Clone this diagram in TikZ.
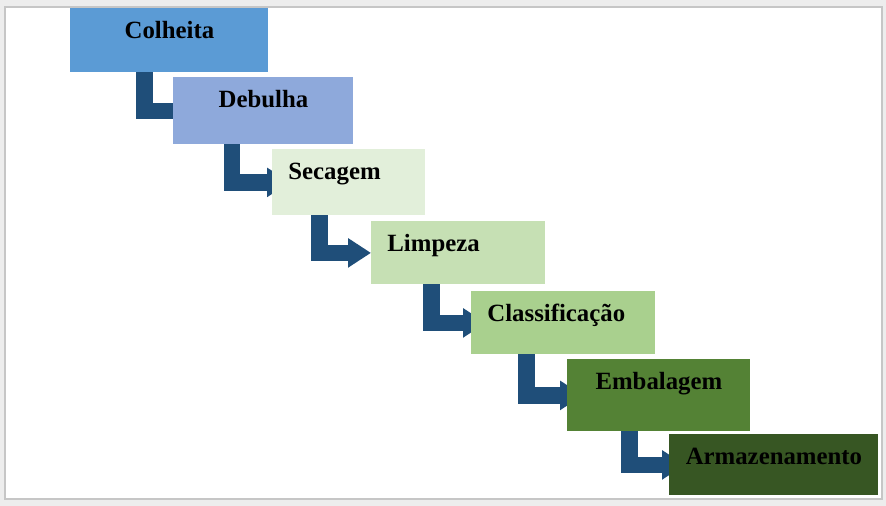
\documentclass[tikz,border=0pt]{standalone}
\usepackage{fontspec}
\setmainfont{Liberation Serif}
\usetikzlibrary{positioning,arrows.meta,backgrounds,calc}

\definecolor{colblue}{HTML}{5B9BD5}
\definecolor{debblue}{HTML}{8EA9DB}
\definecolor{secgreen}{HTML}{E2EFDA}
\definecolor{limgreen}{HTML}{C6E0B4}
\definecolor{clagreen}{HTML}{A9D08E}
\definecolor{embgreen}{HTML}{548235}
\definecolor{armgreen}{HTML}{375623}
\definecolor{flowblue}{HTML}{1F4E79}

\begin{document}
\begin{tikzpicture}[
  x=0.5pt,y=-0.5pt,
  font=\fontsize{12.4}{14}\selectfont\bfseries,
  stepbox/.style={anchor=north west,inner ysep=0pt,inner xsep=8pt,text height=15pt,align=center},
  flow/.style={-{Triangle[length=11.5pt,width=14pt]},line width=8.25pt,flowblue,line join=miter},
]
\useasboundingbox (0,0) rectangle (886,506);

% --- process steps ---
\node[stepbox,fill=colblue,text width=83pt,text depth=17pt]   (col) at (70,8)   {Colheita};
\node[stepbox,fill=debblue,text width=74pt,text depth=18.5pt] (deb) at (173,77) {Debulha};
\node[stepbox,fill=secgreen,text width=60.5pt,text depth=18pt,align=left] (sec) at (272,149) {Secagem};
\node[stepbox,fill=limgreen,text width=71pt,text depth=16.5pt,align=left] (lim) at (371,221) {Limpeza};
\node[stepbox,fill=clagreen,text width=76pt,text depth=16.5pt,align=left] (cla) at (471,291) {Classificação};
\node[stepbox,fill=embgreen,text width=75.5pt,text depth=21pt] (emb) at (567,359) {Embalagem};
\node[stepbox,fill=armgreen,text width=88.5pt,text depth=15.5pt] (arm) at (669,434) {Armazenamento};

\begin{scope}[on background layer]
  % --- frame ---
  \fill[gray!14] (0,0) rectangle (886,506);
  \filldraw[fill=white,draw=gray!45,line width=1pt] (5,7) rectangle (882,499);
  % --- elbow arrows (tips partly behind the next box) ---
  \foreach \a/\b/\dx/\tip in {col/deb/74.5/26,deb/sec/59/18,sec/lim/47.5/0,lim/cla/60.5/15,cla/emb/55.5/16,emb/arm/62.5/16}
    \draw[flow] ($(\a.south west)+(\dx,-4)$) |- ($(\b.west)+(\tip,0)$);
\end{scope}

\end{tikzpicture}
\end{document}
